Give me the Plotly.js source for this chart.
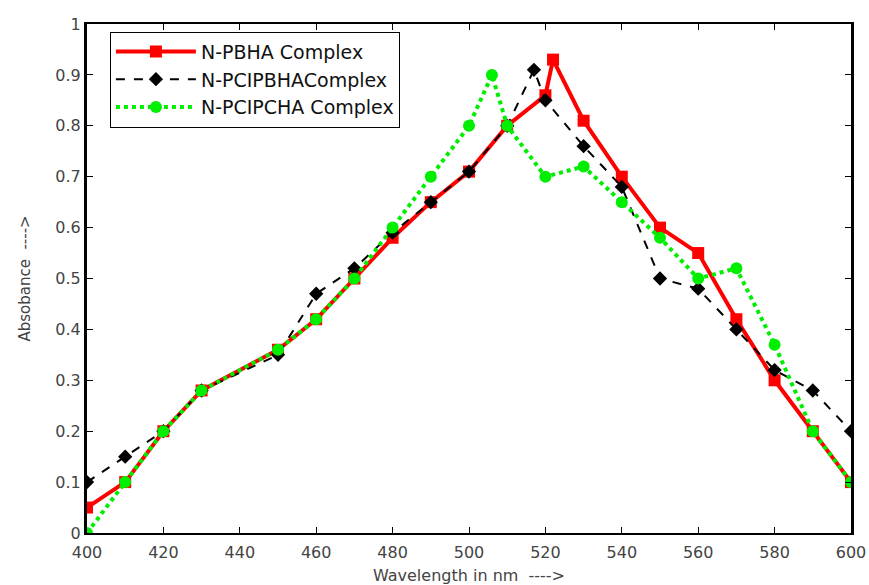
<!DOCTYPE html>
<html><head><meta charset="utf-8">
<script src="https://cdn.plot.ly/plotly-3.0.1.min.js"></script>
<style>html,body{margin:0;padding:0;background:#fff}#c{width:869px;height:585px}</style>
</head><body><div id="c"></div>
<script>
const seriesNames = ["N-PBHA Complex", "N-PCIPBHAComplex", "N-PCIPCHA Complex"];
const xPBHA = [400,410,420,430,450,460,470,480,490,500,510,520,522,530,540,550,560,570,580,590,600];
const yPBHA = [0.05,0.10,0.20,0.28,0.36,0.42,0.50,0.58,0.65,0.71,0.80,0.86,0.93,0.81,0.70,0.60,0.55,0.42,0.30,0.20,0.10];
const xPCIPBHA = [400,410,420,430,450,460,470,480,490,500,510,517,520,530,540,550,560,570,580,590,600];
const yPCIPBHA = [0.10,0.15,0.20,0.28,0.35,0.47,0.52,0.59,0.65,0.71,0.80,0.91,0.85,0.76,0.68,0.50,0.48,0.40,0.32,0.28,0.20];
const xPCIPCHA = [400,410,420,430,450,460,470,480,490,500,506,510,520,530,540,550,560,570,580,590,600];
const yPCIPCHA = [0.00,0.10,0.20,0.28,0.36,0.42,0.50,0.60,0.70,0.80,0.90,0.80,0.70,0.72,0.65,0.58,0.50,0.52,0.37,0.20,0.10];
const xTicks = [400,420,440,460,480,500,520,540,560,580,600];
const yTicks = [0,0.1,0.2,0.3,0.4,0.5,0.6,0.7,0.8,0.9,1];
const yTickText = ["0","0.1","0.2","0.3","0.4","0.5","0.6","0.7","0.8","0.9","1"];

const traces = [
  {x:xPBHA, y:yPBHA, name:seriesNames[0], mode:"lines+markers", type:"scatter",
   line:{color:"#ff0000", width:4}, marker:{symbol:"square", size:12, color:"#ff0000"}},
  {x:xPCIPBHA, y:yPCIPBHA, name:seriesNames[1], mode:"lines+markers", type:"scatter",
   line:{color:"#000000", width:2, dash:"dash"}, marker:{symbol:"diamond", size:11, color:"#000000"}},
  {x:xPCIPCHA, y:yPCIPCHA, name:seriesNames[2], mode:"lines+markers", type:"scatter",
   line:{color:"#00ee00", width:4, dash:"dot"}, marker:{symbol:"circle", size:12, color:"#00ee00"}}
];

const fam = "DejaVu Sans, Verdana, sans-serif";
const layout = {
  width:869, height:585,
  margin:{l:87, r:18, t:24, b:52},
  paper_bgcolor:"#fff", plot_bgcolor:"#fff",
  font:{family:fam, size:16, color:"#444"},
  showlegend:true,
  legend:{x:0.03, y:0.985, xanchor:"left", yanchor:"top", bgcolor:"#fff",
    bordercolor:"#000", borderwidth:1, font:{family:fam, size:19, color:"#111"},
    itemwidth:80, tracegroupgap:0},
  xaxis:{range:[400,600], tickvals:xTicks, ticktext:xTicks.map(String), ticks:"inside", ticklen:6,
    tickcolor:"#000", showgrid:false, zeroline:false, showline:true, linecolor:"#000", linewidth:2,
    mirror:"ticks", ticklabelstandoff:4, tickfont:{family:fam, size:16, color:"#444"},
    title:{text:"Wavelength in nm  ---->", font:{family:fam, size:16, color:"#444"}, standoff:10}},
  yaxis:{range:[0,1], tickvals:yTicks, ticktext:yTickText, ticks:"inside", ticklen:6,
    tickcolor:"#000", showgrid:false, zeroline:false, showline:true, linecolor:"#000", linewidth:3,
    mirror:"ticks", tickfont:{family:fam, size:16, color:"#444"},
    title:{text:"Absobance  ---->", font:{family:fam, size:15, color:"#444"}, standoff:22}}
};
Plotly.newPlot("c", traces, layout, {displayModeBar:false, staticPlot:true});
</script></body></html>
